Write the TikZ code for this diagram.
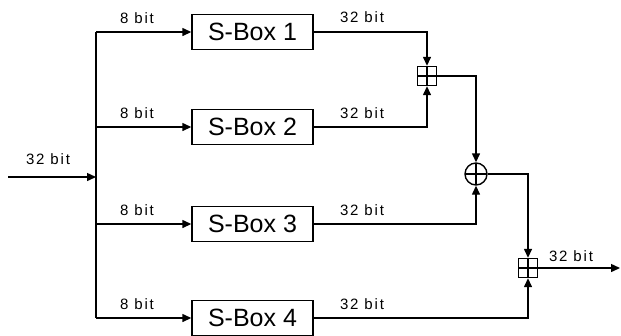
\documentclass[tikz,border=0pt]{standalone}
\usepackage{fontspec}
\setmainfont{Liberation Sans}
\newfontfamily\lblfont[LetterSpace=12]{Liberation Sans}
\usetikzlibrary{arrows.meta}
\begin{document}
\begin{tikzpicture}[x=1bp,y=-1bp,
  line/.style={line width=1.4bp},
  arr/.style={line, -{Triangle[length=9bp,width=8bp]}},
  sbox/.style={draw, line width=1.4bp, minimum width=121bp, minimum height=35bp, inner sep=0pt, font=\fontsize{25bp}{27bp}\selectfont},
  lbl/.style={inner sep=0pt, font=\lblfont\fontsize{15bp}{17bp}\selectfont},
  addbox/.style={draw, line width=1.4bp, minimum size=19bp, inner sep=0pt,
    path picture={\draw[line width=1.2bp] (path picture bounding box.north) -- (path picture bounding box.south) (path picture bounding box.west) -- (path picture bounding box.east);}},
  xorc/.style={draw, circle, line width=1.4bp, minimum size=22bp, inner sep=0pt,
    path picture={\draw[line width=1.2bp] (path picture bounding box.north) -- (path picture bounding box.south) (path picture bounding box.west) -- (path picture bounding box.east);}}
]
\useasboundingbox (0,0) rectangle (621,335);

% input and trunk
\coordinate (in) at (8,177);
\coordinate (j) at (96,177);
\coordinate (t1) at (96,32);
\coordinate (t2) at (96,127);
\coordinate (t3) at (96,224);
\coordinate (t4) at (96,318);
\draw[line] (t1) -- (t4);
\draw[arr] (in) -- (j);
\node[lbl] (lin) at (48,159) {32 bit};

% S-boxes
\node[sbox] (b1) at (252.5,32) {S-Box 1};
\node[sbox] (b2) at (252.5,127) {S-Box 2};
\node[sbox] (b3) at (252.5,224) {S-Box 3};
\node[sbox] (b4) at (252.5,318) {S-Box 4};

\draw[arr] (t1) -- (b1);
\draw[arr] (t2) -- (b2);
\draw[arr] (t3) -- (b3);
\draw[arr] (t4) -- (b4);

\node[lbl] (l1) at (137,18) {8 bit};
\node[lbl] (l2) at (137,113) {8 bit};
\node[lbl] (l3) at (137,210) {8 bit};
\node[lbl] (l4) at (137,304) {8 bit};

% combiners
\node[addbox] (p1) at (427,76) {};
\node[xorc] (x1) at (476,174) {};
\node[addbox] (p2) at (528,268) {};
\coordinate (out) at (620,268);

\draw[arr] (b1) -| (p1);
\draw[arr] (b2) -| (p1);
\draw[arr] (p1) -| (x1);
\draw[arr] (b3) -| (x1);
\draw[arr] (x1) -| (p2);
\draw[arr] (b4) -| (p2);
\draw[arr] (p2) -- (out);

\node[lbl] (o1) at (362,17) {32 bit};
\node[lbl] (o2) at (362,113) {32 bit};
\node[lbl] (o3) at (362,210) {32 bit};
\node[lbl] (o4) at (362,304) {32 bit};
\node[lbl] (lout) at (571,256) {32 bit};
\end{tikzpicture}
\end{document}
